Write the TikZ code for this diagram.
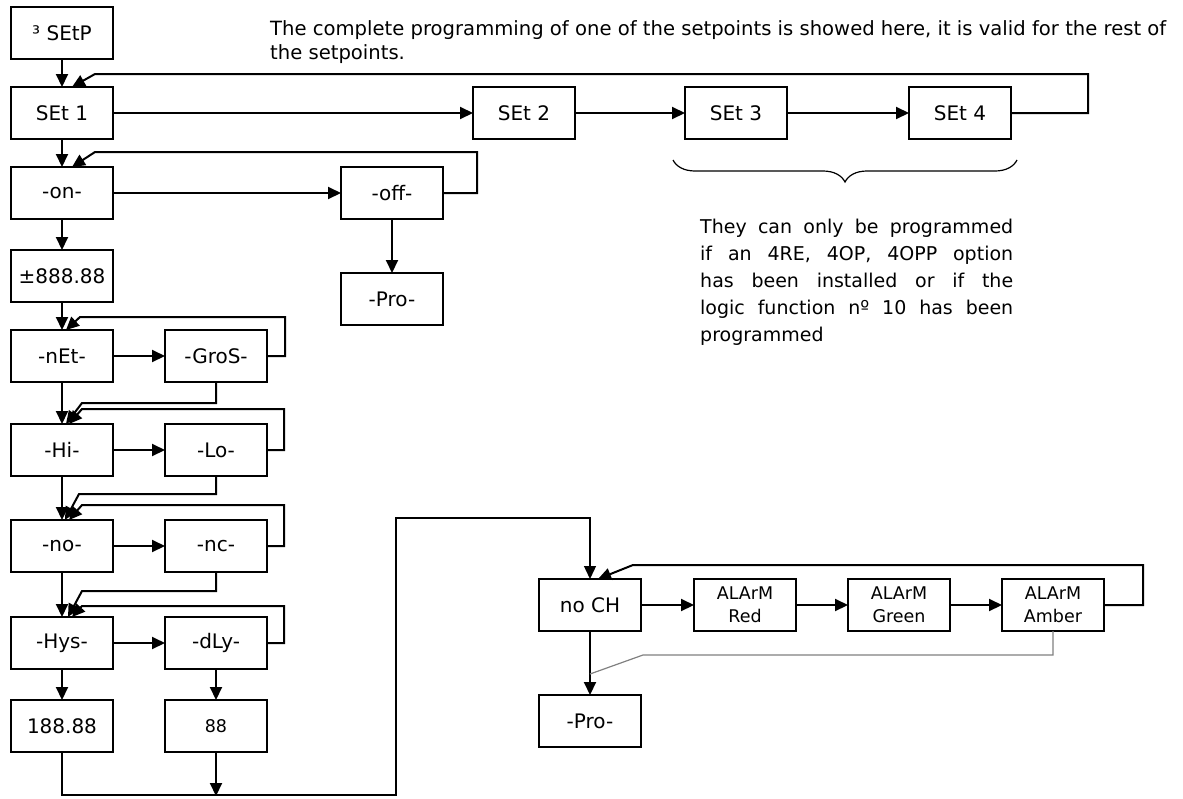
\documentclass[tikz,border=0pt]{standalone}
\usepackage{fontspec}
\setmainfont{DejaVu Sans}
\usetikzlibrary{arrows.meta,positioning,decorations.pathreplacing}
\tikzset{box/.style={draw,line width=1.4pt,outer sep=0pt,minimum width=102pt,minimum height=52pt,inner sep=1pt,align=center,font=\fontsize{20}{24}\selectfont},smallbox/.style={box,font=\fontsize{17.5}{23}\selectfont},arrow/.style={-{Triangle[length=13pt,width=12pt]},line width=2pt},link/.style={line width=1.3pt},faint/.style={line width=1.2pt,gray},note/.style={inner sep=0pt,anchor=north west,align=left}}

\begin{document}
\begin{tikzpicture}[x=1pt,y=1pt,node distance=28pt]
\useasboundingbox (0,0) rectangle (1183,-798);
\node[box] (setp) at (62,-33) {³ SEtP};
\node[box,below=of setp] (set1) {SEt 1};
\node[box,right=360pt of set1] (set2) {SEt 2};
\node[box,right=110pt of set2] (set3) {SEt 3};
\node[box,right=122pt of set3] (set4) {SEt 4};
\node[box,below=of set1] (on) {-on-};
\node[box,right=228pt of on] (off) {-off-};
\node[box,below=54pt of off] (pro1) {-Pro-};
\node[box,below=31pt of on] (num) {±888.88};
\node[box,below=of num] (net) {-nEt-};
\node[box,right=52pt of net] (gros) {-GroS-};
\node[box,below=42pt of net] (hi) {-Hi-};
\node[box,right=52pt of hi] (lo) {-Lo-};
\node[box,below=44pt of hi] (no) {-no-};
\node[box,right=52pt of no] (nc) {-nc-};
\node[box,below=45pt of no] (hys) {-Hys-};
\node[box,right=52pt of hys] (dly) {-dLy-};
\node[box,below=31pt of hys] (hysval) {188.88};
\node[smallbox,below=31pt of dly] (dlyval) {88};
\node[box] (noch) at (590,-605) {no CH};
\node[smallbox,right=53pt of noch] (red) {ALArM\\Red};
\node[smallbox,right=52pt of red] (green) {ALArM\\Green};
\node[smallbox,right=52pt of green] (amber) {ALArM\\Amber};
\node[box,below=64pt of noch] (pro2) {-Pro-};
\node[note,font=\fontsize{19.6}{24}\selectfont] (head) at (270,-20) {The complete programming of one of the setpoints is showed here, it is valid for the rest of\\the setpoints.};
\node[note,font=\fontsize{19}{27}\selectfont] (only) at (700,-219) {\makebox[313pt][s]{They can only be programmed}\\\makebox[313pt][s]{if an 4RE, 4OP, 4OPP option}\\\makebox[313pt][s]{has been installed or if the}\\\makebox[313pt][s]{logic function nº 10 has been}\\programmed};
\coordinate (bend) at (396,-518);
\draw[line width=1.2pt,decorate,decoration={brace,amplitude=22pt}] (1017,-160) -- (673,-160);
\draw[arrow] (setp) -- (set1); \draw[arrow] (set1) -- (set2); \draw[arrow] (set2) -- (set3); \draw[arrow] (set3) -- (set4);
\draw[arrow] (set4.east) -- ++(77,0) |- ([xshift=33,yshift=13]set1.north) -- ([xshift=10]set1.north);
\draw[arrow] (set1) -- (on); \draw[arrow] (on) -- (off); \draw[arrow] (off) -- (pro1);
\draw[arrow] (off.east) -- ++(34,0) |- ([xshift=33,yshift=15]on.north) -- ([xshift=10]on.north);
\draw[arrow] (on) -- (num); \draw[arrow] (num) -- (net); \draw[arrow] (net) -- (gros);
\draw[arrow] (gros.east) -- ++(18,0) |- ([xshift=18,yshift=13]net.north) -- ([xshift=4]net.north);
\draw[arrow] (net) -- (hi); \draw[arrow] (hi) -- (lo);
\draw[arrow] (gros.south) |- ([xshift=20,yshift=21]hi.north) -- ([xshift=4]hi.north);
\draw[arrow] (lo.east) -- ++(17,0) |- ([xshift=20,yshift=15]hi.north) -- ([xshift=7]hi.north);
\draw[arrow] (hi) -- (no); \draw[arrow] (no) -- (nc);
\draw[arrow] (lo.south) |- ([xshift=17,yshift=26]no.north) -- ([xshift=3]no.north);
\draw[arrow] (nc.east) -- ++(17,0) |- ([xshift=20,yshift=15]no.north) -- ([xshift=7]no.north);
\draw[arrow] (no) -- (hys); \draw[arrow] (hys) -- (dly);
\draw[arrow] (nc.south) |- ([xshift=20,yshift=26]hys.north) -- ([xshift=6]hys.north);
\draw[arrow] (dly.east) -- ++(17,0) |- ([xshift=20,yshift=11]hys.north) -- ([xshift=10]hys.north);
\draw[arrow] (hys) -- (hysval); \draw[arrow] (dly) -- (dlyval);
\draw[arrow] (dlyval.south) -- ++(0,-44);
\draw[link,-{Triangle[length=13pt,width=12pt]}] (hysval.south) -- ++(0,-43) -| (bend) -| (noch.north);
\draw[arrow] (noch) -- (red); \draw[arrow] (red) -- (green); \draw[arrow] (green) -- (amber);
\draw[arrow] (amber.east) -- ++(39,0) |- ([xshift=43,yshift=14]noch.north) -- ([xshift=8]noch.north);
\draw[arrow] (noch) -- (pro2);
\draw[faint] (amber.south) |- ([xshift=53,yshift=-24]noch.south) -- ([yshift=-43]noch.south);
\end{tikzpicture}
\end{document}
